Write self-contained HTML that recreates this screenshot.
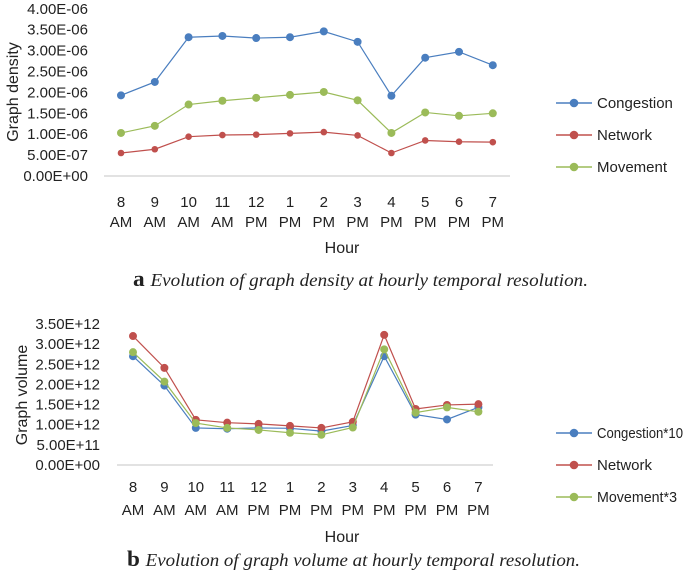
<!DOCTYPE html>
<html><head><meta charset="utf-8"><style>
body{margin:0;background:#fff;width:685px;height:574px;overflow:hidden}
svg{display:block;font-family:"Liberation Sans",sans-serif}
.cap{font-family:"Liberation Serif",serif}
</style></head><body>
<svg id="svg" width="685" height="574"></svg>
<script>
const hours = ["8","9","10","11","12","1","2","3","4","5","6","7"];
const ampm = ["AM","AM","AM","AM","PM","PM","PM","PM","PM","PM","PM","PM"];
const densTicks = ["0.00E+00","5.00E-07","1.00E-06","1.50E-06","2.00E-06","2.50E-06","3.00E-06","3.50E-06","4.00E-06"];
const densCongestion = [1.93,2.25,3.32,3.35,3.30,3.32,3.46,3.21,1.92,2.83,2.97,2.65];
const densNetwork = [0.55,0.64,0.94,0.98,0.99,1.02,1.05,0.97,0.55,0.85,0.82,0.81];
const densMovement = [1.03,1.20,1.71,1.80,1.87,1.94,2.01,1.81,1.03,1.52,1.44,1.50];
const volTicks = ["0.00E+00","5.00E+11","1.00E+12","1.50E+12","2.00E+12","2.50E+12","3.00E+12","3.50E+12"];
const volCongestion = [2.70,1.97,0.92,0.90,0.92,0.91,0.84,0.98,2.70,1.25,1.13,1.43];
const volNetwork = [3.20,2.41,1.12,1.05,1.02,0.97,0.92,1.07,3.23,1.39,1.49,1.51];
const volMovement = [2.80,2.07,1.04,0.92,0.87,0.80,0.75,0.93,2.87,1.30,1.43,1.32];

const NS="http://www.w3.org/2000/svg", svg=document.getElementById('svg');
function mk(tag,attrs,parent,text){const e=document.createElementNS(NS,tag);for(const k in attrs)e.setAttribute(k,attrs[k]);if(text!==undefined)e.textContent=text;(parent||svg).appendChild(e);return e;}
const colors=["#4a7ebf","#c0504d","#9bbb59"];

function chart(o){
  const g=mk('g',{});
  
  
  const y=v=>o.y0-(v/o.step)*o.tickPx;
  const x=i=>o.x0+i*o.dx;
  o.ticks.forEach((t,i)=>{const tl=mk('text',{x:o.tickX,y:o.y0-i*o.tickPx+5,'text-anchor':'end','font-size':15,fill:'#222'},g,t);
    });
  const ax=mk('line',{x1:o.ax1,x2:o.ax2,y1:o.y0,y2:o.y0,stroke:'#d9d9d9','stroke-width':1.5},g);
  
  hours.forEach((h,i)=>{
    const a=mk('text',{x:x(i),y:o.lab1,'text-anchor':'middle','font-size':15,fill:'#222'},g,h);
    
    const b=mk('text',{x:x(i),y:o.lab2,'text-anchor':'middle','font-size':15,fill:'#222'},g,ampm[i]);
    
  });
  const yt=mk('text',{transform:`translate(${o.ytx},${o.yty}) rotate(-90)`,'text-anchor':'middle','font-size':16,fill:'#222'},g,o.ytitle);
  
  const xt=mk('text',{x:o.hx,y:o.hy,'text-anchor':'middle','font-size':16,fill:'#222'},g,'Hour');
  
  o.series.forEach((s,k)=>{
    const pts=s.map((v,i)=>x(i)+','+y(v)).join(' ');
    const pl=mk('polyline',{points:pts,fill:'none',stroke:colors[k],'stroke-width':1.2},g);
    
    
    s.forEach((v,i)=>{const c=mk('circle',{cx:x(i),cy:y(v),r:o.r[k],fill:colors[k]},g);
      });
    const ly=o.legY+k*o.legDy;
    const lg=mk('g',{},g);
    
    mk('line',{x1:556,x2:592,y1:ly,y2:ly,stroke:colors[k],'stroke-width':1.5},lg);
    mk('circle',{cx:574,cy:ly,r:4.3,fill:colors[k]},lg);
    const t=mk('text',{x:597,y:ly+5,'font-size':15,fill:'#222'},lg,o.names[k]);
    if(o.legW[k]){t.setAttribute('textLength',o.legW[k]);t.setAttribute('lengthAdjust','spacingAndGlyphs');}
  });
  const cp=mk('text',{x:o.capx,y:o.capy,'font-size':18,class:'cap',fill:'#222',textLength:o.capW,lengthAdjust:'spacingAndGlyphs'},g);
  
  mk('tspan',{'font-weight':'bold','font-size':22},cp,o.capL+' ');
  mk('tspan',{'font-style':'italic'},cp,o.capT);
}
chart({name:'density-chart',ticks:densTicks,step:0.5,y0:176,tickPx:20.9,tickX:88,x0:121,dx:33.8,ax1:104,ax2:510,
  lab1:207,lab2:227,ytitle:'Graph density',ytx:18,yty:92,hx:342,hy:253,series:[densCongestion,densNetwork,densMovement],
  names:['Congestion','Network','Movement'],legW:[0,0,0],r:[4,3.3,4],legY:103,legDy:32,capx:133,capy:286,capW:455,capL:'a',capT:'Evolution of graph density at hourly temporal resolution.'});
chart({name:'volume-chart',ticks:volTicks,step:0.5,y0:465,tickPx:20.15,tickX:100,x0:133,dx:31.4,ax1:117,ax2:493,
  lab1:492,lab2:515,ytitle:'Graph volume',ytx:27,yty:395,hx:342,hy:542,series:[volCongestion,volNetwork,volMovement],
  names:['Congestion*10','Network','Movement*3'],legW:[86,0,80],r:[4,4,4],legY:433,legDy:32,capx:127,capy:566,capW:453,capL:'b',capT:'Evolution of graph volume at hourly temporal resolution.'});
</script>
</body></html>
